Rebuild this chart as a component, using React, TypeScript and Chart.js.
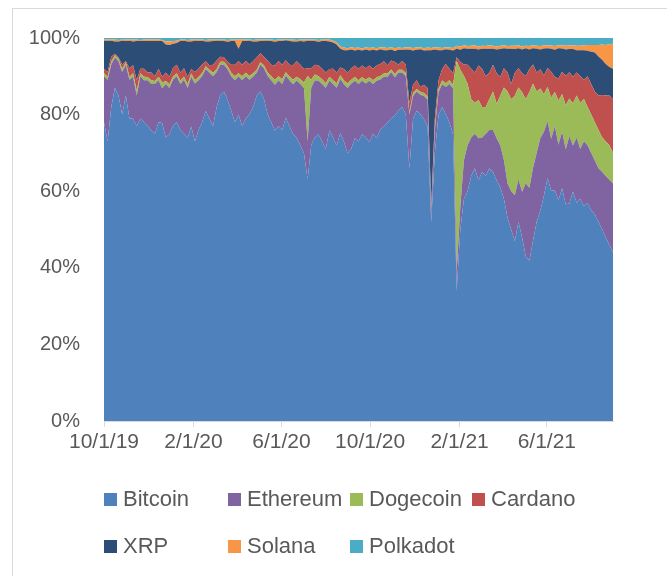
import React, { useEffect, useRef } from 'react';
import { Chart, registerables } from 'chart.js';

Chart.register(...registerables);

// one sample every 5 days starting 10/1/19
const STEP_DAYS = 5;
const tickDays = [0, 123, 244, 366, 489, 609];
const tickLabels = ['10/1/19', '2/1/20', '6/1/20', '10/1/20', '2/1/21', '6/1/21'];
const yTicks = [0, 20, 40, 60, 80, 100];

const seriesNames = ['Bitcoin', 'Ethereum', 'Dogecoin', 'Cardano', 'XRP', 'Solana', 'Polkadot'];
const seriesColors = ['#4F81BD', '#8064A2', '#9BBB59', '#C0504D', '#2C4D75', '#F79646', '#4BACC6'];

const bitcoin = [
  78, 73, 82, 87, 85, 80, 85, 79, 79, 77,
  79, 78, 77, 76, 75, 78, 77, 74, 75, 77,
  78, 76, 75, 74, 77, 73, 76, 78, 81, 79,
  77, 82, 85, 86, 84, 81, 78, 80, 77, 79,
  80, 82, 85, 86, 84, 80, 78, 76, 77, 76,
  79, 77, 75, 74, 72, 70, 63, 72, 74, 75,
  73, 71, 76, 74, 72, 75, 73, 70, 71, 74,
  73, 75, 74, 73, 75, 74, 76, 77, 78, 79,
  80, 81, 82, 80, 66, 79, 81, 80, 79, 77,
  52, 70, 80, 82, 80, 78, 75, 34, 50, 58,
  60, 64, 66, 63, 65, 64, 66, 65, 63, 61,
  58, 53, 50, 47, 52, 48, 43, 42, 47, 52,
  55, 60, 64, 62, 61, 60, 62, 59, 58, 60,
  57, 58, 56, 57, 55, 54, 52, 50, 48, 46,
  44,
];
const ethereum = [
  12, 16, 11, 8, 9, 11, 8, 10, 11, 8,
  11, 11, 12, 12, 13, 11, 9, 14, 12, 12,
  12, 12, 14, 13, 13, 15, 13, 12, 11, 12,
  13, 9, 8, 7, 8, 9, 11, 10, 12, 11,
  9, 8, 6, 7, 8, 10, 11, 12, 12, 12,
  11, 12, 13, 15, 16, 17, 10, 15, 15, 14,
  15, 16, 13, 14, 15, 14, 15, 17, 17, 15,
  15, 14, 14, 16, 13, 15, 13, 13, 12, 12,
  10, 10, 9, 10, 14, 6, 5, 5, 6, 7,
  3, 6, 6, 6, 7, 10, 12, 5, 6, 10,
  12, 10, 9, 11, 9, 11, 10, 11, 11, 11,
  10, 9, 10, 12, 11, 12, 19, 19, 19, 18,
  19, 17, 15, 14, 17, 15, 15, 15, 18, 12,
  17, 13, 17, 15, 15, 14, 14, 15, 16, 17,
  18,
];
const dogecoin = [
  0.8, 0.8, 0.7, 0.6, 0.6, 0.8, 0.7, 0.8, 0.9, 1.2,
  0.8, 0.9, 0.8, 1, 0.8, 0.9, 1.5, 0.8, 1, 0.8,
  0.8, 0.9, 0.8, 1, 0.8, 0.9, 0.8, 0.8, 0.7, 0.8,
  0.9, 0.8, 0.7, 0.8, 0.8, 0.9, 1, 0.8, 1, 0.9,
  1, 0.9, 0.8, 0.7, 0.8, 0.9, 1, 1.2, 1, 1.2,
  0.9, 1, 1.2, 1, 1.2, 1.5, 17, 2, 1.5, 1.2,
  1.2, 1.2, 1, 1, 1.2, 1, 1, 1.2, 1, 1,
  1, 0.9, 1, 0.9, 1, 0.9, 0.9, 0.8, 0.8, 0.7,
  0.8, 0.7, 0.7, 0.8, 0.6, 0.8, 0.7, 0.8, 0.8, 0.8,
  0.5, 0.7, 0.8, 1, 1, 1, 1, 55, 36, 22,
  16, 10, 8, 10, 8, 7, 8, 10, 9, 13,
  19, 24, 24, 26, 24, 26, 22, 25, 22, 16,
  13, 10, 9, 11, 9, 12, 10, 12, 10, 11,
  11, 12, 11, 10, 10, 10, 10, 9, 9, 9,
  8,
];
const cardano = [
  1.2, 1.2, 1.3, 0.4, 0.4, 1.2, 0.3, 2.2, 2.1, 2.8,
  1.2, 2.1, 1.2, 2, 1.2, 2.1, 1.5, 2.2, 2, 2.2,
  2.2, 2.1, 2.2, 2, 1.2, 2.1, 2.2, 2.2, 1.3, 1.2,
  2.1, 2.2, 1.3, 1.2, 1.2, 2.1, 3, 3.2, 3, 3.1,
  3, 3.1, 3.2, 2.3, 2.2, 3.1, 3, 3.8, 4, 3.8,
  3.1, 3, 3.8, 4, 3.8, 3.5, 2, 3, 2.5, 2.8,
  2.8, 2.8, 2, 3, 2.8, 2, 3, 2.8, 3, 3,
  3, 3.1, 3, 3.1, 3, 3.1, 3.1, 3.2, 2.2, 2.3,
  3.2, 1.3, 2.3, 2.2, 2.4, 2.2, 2.3, 1.2, 2.2, 2.2,
  0.5, 2.3, 2.2, 3, 5, 3, 3, 1, 2, 3,
  5, 8, 8, 9, 10, 8, 7, 7, 8, 5,
  5, 5, 4, 6, 5, 5, 6, 6, 5, 5,
  5, 5, 5, 7, 4, 6, 6, 8, 7, 7,
  6, 7, 5, 8, 8, 8, 9, 11, 12, 13,
  14,
];
const xrp = [
  7.2, 8.2, 4.2, 3.2, 4.2, 6.2, 5.2, 7.2, 6.2, 10.2,
  7.2, 7.2, 8.2, 8.2, 9.2, 7.2, 9.2, 7.3, 8.3, 6.3,
  5.7, 8.2, 7.2, 9.2, 7.2, 8.2, 7.2, 6.2, 5.2, 6.2,
  6.2, 5.2, 4.2, 4.2, 5.2, 6.2, 6.2, 3.2, 6.2, 5.2,
  6.2, 5.2, 4.2, 3.2, 4.2, 5.2, 6.2, 6.2, 5.2, 6.2,
  5.2, 6.2, 6.2, 5.2, 6.2, 7.2, 7.2, 7.2, 6.2, 6.2,
  7.2, 8.2, 7.2, 6.8, 7.3, 4.9, 4.9, 5.9, 4.9, 3.9,
  4.9, 3.9, 4.9, 3.9, 4.9, 3.9, 3.9, 2.9, 3.9, 2.9,
  2.9, 3.9, 2.9, 3.9, 13.9, 8.9, 7.9, 9.9, 8.9, 9.9,
  40.9, 17.9, 7.9, 4.9, 3.9, 4.9, 5.9, 2.2, 3.2, 4.2,
  4.2, 5.2, 6.2, 4.2, 5.2, 7.2, 6.2, 4.2, 6.2, 7.2,
  5.2, 6.2, 9.2, 6.2, 5.2, 6.2, 7.2, 5.2, 4.2, 6.2,
  5.2, 7.2, 5.2, 6.2, 7.2, 8.2, 6.2, 7.2, 6.2, 7.2,
  5.8, 6.8, 7.7, 6.7, 8.4, 10.2, 10.2, 9.2, 8.2, 7.4,
  8,
];
const solana = [
  0.4, 0.3, 0.4, 0.5, 0.4, 0.3, 0.4, 0.4, 0.5, 0.4,
  0.3, 0.4, 0.4, 0.5, 0.4, 0.4, 0.3, 0.8, 0.9, 0.7,
  0.6, 0.4, 0.3, 0.4, 0.5, 0.4, 0.4, 0.3, 0.4, 0.5,
  0.4, 0.4, 0.3, 0.4, 0.5, 0.4, 0.4, 2.4, 0.5, 0.4,
  0.3, 0.4, 0.5, 0.4, 0.4, 0.3, 0.4, 0.5, 0.4, 0.4,
  0.3, 0.4, 0.5, 0.4, 0.4, 0.5, 0.4, 0.3, 0.4, 0.5,
  0.4, 0.4, 0.5, 0.5, 0.6, 0.6, 0.7, 0.5, 0.6, 0.7,
  0.6, 0.5, 0.6, 0.7, 0.6, 0.6, 0.5, 0.7, 0.6, 0.6,
  0.7, 0.6, 0.5, 0.6, 0.6, 0.7, 0.6, 0.5, 0.6, 0.7,
  0.6, 0.6, 0.7, 0.6, 0.5, 0.6, 0.7, 0.8, 0.9, 0.8,
  0.7, 0.8, 0.9, 0.8, 0.8, 0.7, 0.9, 0.8, 0.8, 0.9,
  0.8, 0.7, 0.8, 0.9, 0.8, 0.8, 0.7, 0.9, 0.8, 0.8,
  0.9, 0.8, 0.8, 0.9, 1.0, 0.8, 0.9, 1.0, 0.9, 1.0,
  1.2, 1.2, 1.3, 1.5, 1.8, 2.0, 3.0, 4.0, 5.0, 6.0,
  6.5,
];
const polkadot = [
  0.4, 0.4, 0.3, 0.4, 0.5, 0.4, 0.4, 0.3, 0.4, 0.4,
  0.5, 0.4, 0.4, 0.3, 0.4, 0.4, 0.5, 0.9, 0.9, 0.8,
  0.7, 0.4, 0.4, 0.5, 0.4, 0.3, 0.4, 0.4, 0.5, 0.4,
  0.4, 0.3, 0.4, 0.4, 0.5, 0.4, 0.4, 0.4, 0.3, 0.4,
  0.4, 0.5, 0.4, 0.4, 0.3, 0.4, 0.4, 0.5, 0.4, 0.4,
  0.3, 0.4, 0.4, 0.5, 0.4, 0.4, 0.3, 0.4, 0.4, 0.5,
  0.4, 0.4, 0.4, 0.7, 1.1, 2.2, 2.5, 2.7, 2.4, 2.6,
  2.5, 2.8, 2.4, 2.6, 2.5, 2.7, 2.4, 2.5, 2.6, 2.4,
  2.7, 2.5, 2.6, 2.4, 2.5, 2.6, 2.5, 2.4, 2.7, 2.5,
  2.6, 2.4, 2.5, 2.6, 2.4, 2.5, 2.6, 2.0, 2.2, 1.9,
  2.1, 2.0, 1.9, 2.2, 2.0, 2.1, 1.9, 2.0, 2.2, 2.0,
  1.9, 2.1, 2.0, 2.0, 1.9, 2.2, 2.0, 2.1, 1.9, 2.0,
  2.1, 2.0, 1.9, 2.0, 2.1, 2.0, 1.9, 2.1, 2.0, 1.9,
  2.0, 2.0, 1.9, 1.8, 1.8, 1.8, 1.8, 1.7, 1.8, 1.6,
  1.5,
];

const FONT = "'Liberation Sans', Arial, sans-serif";
const TEXT_COLOR = '#595959';

export default function App() {
  const canvasRef = useRef<HTMLCanvasElement | null>(null);

  useEffect(() => {
    const raw = [bitcoin, ethereum, dogecoin, cardano, xrp, solana, polkadot];
    const n = bitcoin.length;
    const totals = Array.from({ length: n }, (_, i) => raw.reduce((s, a) => s + a[i], 0));
    const datasets = raw.map((arr, k) => ({
      label: seriesNames[k],
      data: arr.map((v, i) => ({ x: i * STEP_DAYS, y: (v / totals[i]) * 100 })),
      backgroundColor: seriesColors[k],
      borderColor: seriesColors[k],
      borderWidth: 0,
      pointRadius: 0,
      pointHoverRadius: 0,
      fill: k === 0 ? 'origin' : '-1',
      tension: 0,
    }));

    const chart = new Chart(canvasRef.current as HTMLCanvasElement, {
      type: 'line',
      data: { datasets } as any,
      options: {
        animation: false,
        responsive: false,
        maintainAspectRatio: false,
        layout: { padding: { top: 38, right: 54, bottom: 115, left: 0 } },
        plugins: {
          legend: { display: false },
          tooltip: { enabled: false },
        },
        scales: {
          x: {
            type: 'linear',
            min: 0,
            max: (n - 1) * STEP_DAYS,
            afterBuildTicks: (scale: any) => {
              scale.ticks = tickDays.map((v) => ({ value: v }));
            },
            afterFit: (scale: any) => {
              scale.height = 40;
            },
            ticks: {
              autoSkip: false,
              maxRotation: 0,
              minRotation: 0,
              padding: 3,
              color: TEXT_COLOR,
              font: { family: FONT, size: 21 },
              callback: (v: any) => {
                const idx = tickDays.indexOf(Number(v));
                return idx >= 0 ? tickLabels[idx] : '';
              },
            },
            grid: {
              display: true,
              drawOnChartArea: false,
              drawTicks: true,
              tickLength: 6,
              color: '#d9d9d9',
            },
            border: { display: true, color: '#d9d9d9', width: 1 },
          },
          y: {
            stacked: true,
            min: 0,
            max: 100,
            afterBuildTicks: (scale: any) => {
              scale.ticks = yTicks.map((v) => ({ value: v }));
            },
            afterFit: (scale: any) => {
              scale.width = 104;
            },
            ticks: {
              padding: 24,
              color: TEXT_COLOR,
              font: { family: FONT, size: 20 },
              callback: (v: any) => `${v}%`,
            },
            grid: { display: false, drawTicks: false },
            border: { display: false },
          },
        },
      } as any,
    });
    return () => chart.destroy();
  }, []);

  const legendRows = [
    [0, 1, 2, 3],
    [4, 5, 6],
  ];
  const colX = [104, 228, 350, 472];
  const rowY = [499, 546];

  return (
    <div style={{ position: 'absolute', left: 0, top: 0, width: 667, height: 576, overflow: 'hidden', background: '#fff' }}>
      <div
        style={{
          position: 'absolute',
          left: 12,
          top: 8,
          width: 720,
          height: 640,
          borderTop: '1px solid #d9d9d9',
          borderLeft: '1px solid #d9d9d9',
        }}
      />
      <canvas ref={canvasRef} width={667} height={576} style={{ position: 'absolute', left: 0, top: 0 }} />
      {legendRows.map((row, r) =>
        row.map((k, c) => (
          <div
            key={k}
            style={{
              position: 'absolute',
              left: colX[c],
              top: rowY[r] - 14,
              height: 28,
              display: 'flex',
              alignItems: 'center',
              fontFamily: FONT,
              fontSize: 22,
              color: TEXT_COLOR,
              whiteSpace: 'nowrap',
            }}
          >
            <span style={{ display: 'inline-block', width: 13, height: 13, background: seriesColors[k], marginRight: 6 }} />
            <span>{seriesNames[k]}</span>
          </div>
        ))
      )}
    </div>
  );
}
